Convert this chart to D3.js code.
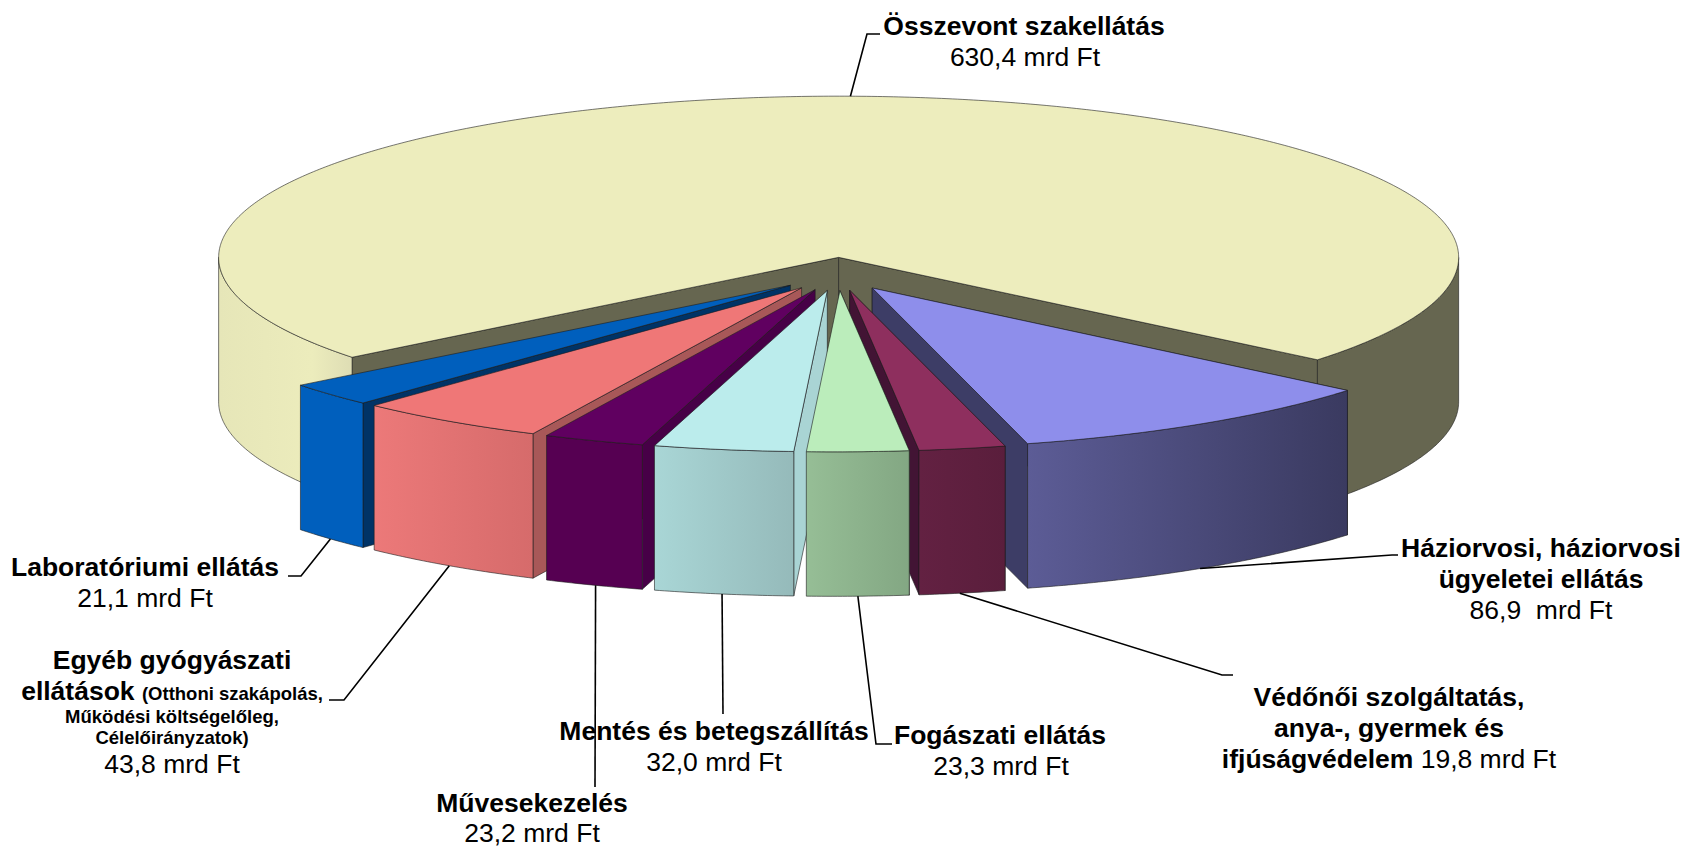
<!DOCTYPE html>
<html lang="hu">
<head>
<meta charset="utf-8">
<script src="https://cdn.jsdelivr.net/npm/d3@7/dist/d3.min.js"></script>
<style>
  html, body { margin: 0; padding: 0; background: #fff; }
  svg { display: block; }
  text { font-family: "Liberation Sans", Arial, sans-serif; fill: #000; text-anchor: middle; }
</style>
</head>
<body>
<svg id="chart" width="1686" height="848"></svg>
<script>
// Spending categories, clockwise starting with the large back slice (mrd Ft)
const categories = ["Összevont szakellátás", "Háziorvosi ellátás", "Védőnői szolgáltatás", "Fogászati ellátás",
                    "Mentés és betegszállítás", "Művesekezelés", "Egyéb gyógyászati ellátások", "Laboratóriumi ellátás"];
const values = [630.4, 86.9, 19.8, 23.3, 32.0, 23.2, 43.8, 21.1];

// Surface colours per slice
const topColors  = ["#EDEDBD", "#8E8EEB", "#8E2F5E", "#BBEDBB", "#BBECEC", "#600060", "#EF7777", "#005FBD"];
const wallFrom   = ["#DEDDB4", "#5C5C96", "#632142", "#96BE96", "#A9D6D6", "#560052", "#EC7979", "#005FBD"];
const wallTo     = ["#E6E6B8", "#3A3A60", "#5A1E3C", "#83A783", "#95BABA", "#560052", "#D66B6B", "#005FBD"];
const faceColors = ["#666650", "#3D3D66", "#421434", "#83A783", "#A9D4D4", "#470047", "#A85858", "#003366"];
const backRightWall = "#666650";
const backLeftHighlight = "#ECECBC";

// Paint order: outer slices first, working in towards the front centre
const paintOrder = [0, 7, 6, 5, 4, 1, 2, 3];

// Pie projection; frontLean tips the tops of the front slices slightly towards the right at the hub
const center = { x: 832, y: 274 };
const backSliceShift = 6, frontLean = 5.5;
const radius = 620, tilt = 0.26, depth = 144.5, explode = 64;
const rad = d => d * Math.PI / 180;
const startDeg = 231.7;

const arcs = d3.pie().sort(null).startAngle(rad(startDeg)).endAngle(rad(startDeg + 360))(values);

const svg = d3.select("#chart");
const defs = svg.append("defs");

function hub(a) {
  const mid = (a.startAngle + a.endAngle) / 2;
  return {
    x: center.x + explode * Math.sin(mid) + (a.index === 0 ? backSliceShift : frontLean),
    y: center.y - explode * tilt * Math.cos(mid)
  };
}
function rimPoint(a, angle, drop = 0) {
  const h = hub(a);
  const lean = a.index === 0 ? 0 : frontLean * Math.cos(angle);
  return [h.x + radius * Math.sin(angle) + lean, h.y - radius * tilt * Math.cos(angle) + drop];
}
function sweep(a, from, to, drop = 0) {
  const n = Math.max(2, Math.ceil(Math.abs(to - from) / rad(0.5)));
  return d3.range(n + 1).map(i => rimPoint(a, from + (to - from) * i / n, drop));
}
const closed = d3.line().curve(d3.curveLinearClosed);

function gradient(id, stops) {
  const g = defs.append("linearGradient").attr("id", id);
  stops.forEach(([offset, color]) => g.append("stop").attr("offset", offset).attr("stop-color", color));
  return `url(#${id})`;
}

function drawFace(group, a, angle, fill) {
  const h = hub(a), p = rimPoint(a, angle);
  group.append("path")
    .attr("d", closed([[h.x, h.y], p, [p[0], p[1] + depth], [h.x, h.y + depth]]))
    .attr("fill", fill).attr("class", "edge");
}

function drawWall(group, a, from, to, fill) {
  const pts = sweep(a, from, to).concat(sweep(a, to, from, depth));
  group.append("path").attr("d", closed(pts)).attr("fill", fill).attr("class", "edge");
}

paintOrder.forEach(i => {
  const a = arcs[i];
  const g = svg.append("g").attr("class", "slice");
  const s = a.startAngle, e = a.endAngle;

  // Cut faces turned towards the viewer
  if (s > rad(180)) drawFace(g, a, s, faceColors[i]);
  if (e < rad(180) || e % (2 * Math.PI) < rad(180)) drawFace(g, a, e, faceColors[i]);

  // Outer wall: only the front half of the rim is visible
  [[rad(90), rad(270)], [rad(450), rad(630)]].forEach(([lo, hi], k) => {
    const from = Math.max(s, lo), to = Math.min(e, hi);
    if (from < to) {
      let fill;
      if (i === 0 && k === 1) fill = backRightWall;
      else if (i === 0) fill = gradient(`wall-${i}-${k}`, [["0%", wallTo[i]], ["70%", backLeftHighlight], ["100%", wallFrom[i]]]);
      else fill = gradient(`wall-${i}-${k}`, [["0%", wallFrom[i]], ["100%", wallTo[i]]]);
      drawWall(g, a, from, to, fill);
    }
  });

  // Top surface
  const h = hub(a);
  g.append("path")
    .attr("d", closed([[h.x, h.y]].concat(sweep(a, s, e))))
    .attr("fill", topColors[i]).attr("class", "edge");
});

svg.selectAll(".edge")
  .attr("stroke", "#1c1c1c").attr("stroke-opacity", 0.75).attr("stroke-width", 0.8).attr("stroke-linejoin", "round");

// Leader lines: attachment on the slice rim (fraction of its sweep), then the run out to the label
const leaderSlice = [0, 1, 2, 3, 4, 5, 6, 7];
const leaderFraction = [0.502, 0.51, 0.53, 0.5, 0.51, 0.48, 0.5, 0.5];
const leaderOnBottom = [false, true, true, true, true, true, true, true];
const leaderRuns = [
  [[867, 34], [880, 34]],
  [[1392, 555], [1398, 555]],
  [[1222, 675], [1233, 675]],
  [[876, 744], [892, 744]],
  [[723, 714]],
  [[595, 787]],
  [[344, 700], [329, 700]],
  [[301, 576], [288, 576]]
];
const leaderLine = d3.line();
leaderSlice.forEach((i, k) => {
  const a = arcs[i];
  const angle = a.startAngle + (a.endAngle - a.startAngle) * leaderFraction[k];
  const start = rimPoint(a, angle, leaderOnBottom[k] ? depth : 0);
  svg.append("path").attr("class", "leader")
    .attr("d", leaderLine([start].concat(leaderRuns[k])))
    .attr("fill", "none").attr("stroke", "#000").attr("stroke-width", 1.6);
});

// Hungarian number format for the value lines
const amount = v => d3.format(".1f")(v).replace(".", ",") + " mrd Ft";

const BIG = 26.5, SMALL = 18.5;
const labelLines = [
  { x: 1024, y: 35,  parts: [["Összevont szakellátás", "b", BIG]] },
  { x: 1025, y: 66,  parts: [[amount(values[0]), "n", BIG]] },
  { x: 1541, y: 557, parts: [["Háziorvosi, háziorvosi", "b", BIG]] },
  { x: 1541, y: 588, parts: [["ügyeletei ellátás", "b", BIG]] },
  { x: 1541, y: 619, parts: [[amount(values[1]).replace(" ", "\u00a0 "), "n", BIG]] },
  { x: 1389, y: 706, parts: [["Védőnői szolgáltatás,", "b", BIG]] },
  { x: 1389, y: 737, parts: [["anya-, gyermek és", "b", BIG]] },
  { x: 1389, y: 768, parts: [["ifjúságvédelem ", "b", BIG], [amount(values[2]), "n", BIG]] },
  { x: 1000, y: 744, parts: [["Fogászati ellátás", "b", BIG]] },
  { x: 1001, y: 775, parts: [[amount(values[3]), "n", BIG]] },
  { x: 714,  y: 740, parts: [["Mentés és betegszállítás", "b", BIG]] },
  { x: 714,  y: 771, parts: [[amount(values[4]), "n", BIG]] },
  { x: 532,  y: 812, parts: [["Művesekezelés", "b", BIG]] },
  { x: 532,  y: 842, parts: [[amount(values[5]), "n", BIG]] },
  { x: 172,  y: 669, parts: [["Egyéb gyógyászati", "b", BIG]] },
  { x: 172,  y: 700, parts: [["ellátások ", "b", BIG], ["(Otthoni szakápolás,", "b", SMALL]] },
  { x: 172,  y: 723, parts: [["Működési költségelőleg,", "b", SMALL]] },
  { x: 172,  y: 744, parts: [["Célelőirányzatok)", "b", SMALL]] },
  { x: 172,  y: 773, parts: [[amount(values[6]), "n", BIG]] },
  { x: 145,  y: 576, parts: [["Laboratóriumi ellátás", "b", BIG]] },
  { x: 145,  y: 607, parts: [[amount(values[7]), "n", BIG]] }
];

labelLines.forEach(line => {
  const t = svg.append("text").attr("x", line.x).attr("y", line.y).attr("xml:space", "preserve");
  line.parts.forEach(([str, weight, size]) => {
    t.append("tspan").text(str)
      .attr("font-weight", weight === "b" ? 700 : 400)
      .attr("font-size", size);
  });
});
</script>
</body>
</html>
